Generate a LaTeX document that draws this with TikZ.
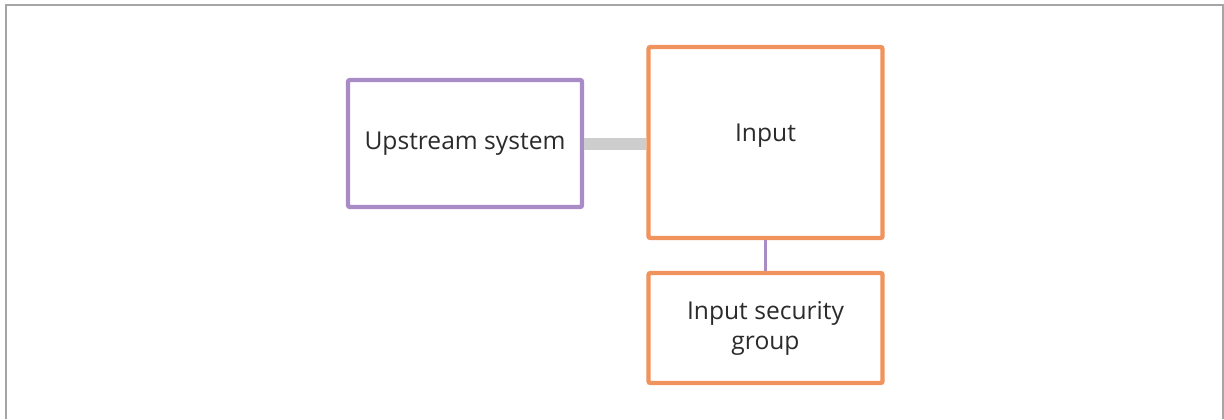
\documentclass[tikz,border=0pt]{standalone}
\usepackage{fontspec}
\setmainfont{Open Sans}
\usetikzlibrary{positioning}
\definecolor{upPurple}{HTML}{A98BC6}
\definecolor{inOrange}{HTML}{F0935C}
\definecolor{linkGray}{HTML}{CDCDCD}
\definecolor{frameGray}{HTML}{A5A5A5}
\definecolor{textInk}{HTML}{2B2B2B}
\tikzset{
    box/.style={draw, line width=2.2pt, rounded corners=1pt, inner sep=0pt, align=center,
        minimum width=117pt, text=textInk, font=\fontsize{12.3}{15}\selectfont},
    upbox/.style={box, draw=upPurple, minimum height=63.5pt},
    inbox/.style={box, draw=inOrange},
    graylink/.style={linkGray, line width=6pt},
    purplelink/.style={upPurple, line width=1.3pt}
}
\begin{document}
\begin{tikzpicture}[x=0.5pt,y=-0.5pt]
\useasboundingbox (0,0) rectangle (1224,419);
\draw[frameGray, line width=1pt] (6,419) -- (6,5) -- (1223,5) -- (1223,419); % outer frame
\node[upbox] (up) at (465,143.5) {Upstream system}; % upstream system
\node[inbox, minimum height=95.5pt, text depth=10pt] (in) at (765.5,142.5) {Input}; % input
\node[inbox, minimum height=55pt] (sec) at (765.5,328) {Input security\\group}; % security group
\draw[graylink] (up.east) -- (up.east -| in.west); % upstream to input
\draw[purplelink] (in.south) -- (sec.north); % input to security group
\end{tikzpicture}
\end{document}
